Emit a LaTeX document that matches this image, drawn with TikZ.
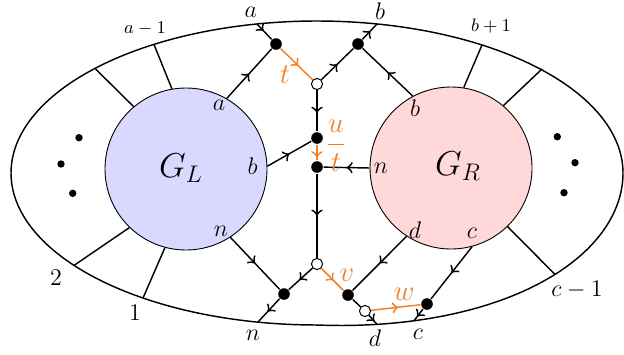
\documentclass[tikz,border=0pt]{standalone}
\usetikzlibrary{decorations.markings}
\definecolor{myorange}{RGB}{240,128,40}
\definecolor{lblue}{RGB}{217,217,255}
\definecolor{lred}{RGB}{255,217,217}
\begin{document}
\begin{tikzpicture}[x=0.5pt,y=-0.5pt,
  line width=0.72pt,
  bdot/.style={circle,fill=black,inner sep=0pt,minimum size=5.8pt},
  wdot/.style={circle,draw=black,fill=white,line width=0.5pt,inner sep=0pt,minimum size=5.6pt},
  blob/.style={circle,draw=black,line width=0.45pt,inner sep=0pt,minimum size=81pt},
  midarr/.style={postaction={decorate},decoration={markings,mark=at position #1 with {\arrow[scale=1.25]{>}}}},
  midarr/.default=0.5,
  oedge/.style={draw=myorange},
  lab/.style={font=\fontsize{13}{15}\selectfont,inner sep=0pt},
  slab/.style={font=\fontsize{9}{11}\selectfont,inner sep=0pt},
  olab/.style={font=\fontsize{15}{17}\selectfont,inner sep=0pt,text=myorange},
  glab/.style={font=\fontsize{17.5}{20}\selectfont,inner sep=0pt}
]
\useasboundingbox (0,0) rectangle (624,354);

% blobs
\node[blob,fill=lblue] (GL) at (186,169) {};
\node[blob,fill=lred] (GR) at (451,168) {};
\node[glab] (GLt) at (181,168.5) {$G_L$};
\node[glab] (GRt) at (458,166.5) {$G_R$};

% outer curve
\draw plot[domain=0:360,samples=200,smooth] ({317+306*cos(\x)},{173+152*sin(\x)+12*max(sin(\x),0)*max(cos(\x),0)}) -- cycle;

% boundary points
\coordinate (ba) at (257,24);
\coordinate (bb) at (377,24);
\coordinate (bn) at (258,322);
\coordinate (bd) at (377,324.3);
\coordinate (bc) at (414,320.6);
\coordinate (oam) at (154,44.4);
\coordinate (oL2) at (95,68.4);
\coordinate (otwo) at (74,265.4);
\coordinate (oone) at (143,298);
\coordinate (obp) at (482,45);
\coordinate (oR2) at (542,69);
\coordinate (ocm) at (555,274.4);

% plain lines between blobs and outer curve
\draw (GL.100) -- (oam);
\draw (GL.130) -- (oL2);
\draw (GL.226) -- (otwo);
\draw (GL.255) -- (oone);
\draw (GR.81) -- (obp);
\draw (GR.50) -- (oR2);
\draw (GR.-46) -- (ocm);

% vertices
\node[bdot] (A) at (276,44) {};
\node[bdot] (B) at (358,44) {};
\node[wdot] (T) at (317,84) {};
\node[bdot] (U1) at (317,138) {};
\node[bdot] (U2) at (317,167) {};
\node[wdot] (V) at (317,264) {};
\node[bdot] (N) at (284,294) {};
\node[bdot] (D) at (348,295) {};
\node[wdot] (W) at (365,311) {};
\node[bdot] (C) at (427,304) {};

% black edges
\draw[midarr] (GL.60) -- (A);
\draw[midarr=0.45] (ba) -- (A);
\draw[midarr] (T) -- (B);
\draw[midarr=0.55] (B) -- (bb);
\draw[midarr] (GR.118) -- (B);
\draw[midarr=0.55] (T) -- (U1);
\draw[midarr] (GL.2) -- (U1);
\draw[midarr] (GR.180) -- (U2);
\draw[midarr=0.5] (U2) -- (V);
\draw[midarr] (GL.-57) -- (N);
\draw[midarr=0.55] (V) -- (N);
\draw[midarr=0.55] (N) -- (bn);
\draw[midarr] (GR.-123.5) -- (D);
\draw (D) -- (W);
\draw[midarr=0.65] (W) -- (bd);
\draw[midarr] (GR.-75) -- (C);
\draw[midarr=0.65] (C) -- (bc);

% orange edges
\draw[oedge,midarr=0.55] (A) -- (T);
\draw[oedge,midarr=0.8] (U1) -- (U2);
\draw[oedge,midarr=0.55] (V) -- (D);
\draw[oedge,midarr=0.55] (W) -- (C);

% dots
\fill (79,137.7) circle[radius=1.85pt];
\fill (61,164) circle[radius=1.85pt];
\fill (72.7,193.3) circle[radius=1.85pt];
\fill (557.3,136.7) circle[radius=1.85pt];
\fill (575,162.7) circle[radius=1.85pt];
\fill (564,192.7) circle[radius=1.85pt];

% labels
\node[lab] (la) at (250.7,12) {$a$};
\node[lab] (lb) at (380,11.5) {$b$};
\node[lab] (lGLa) at (219,105) {$a$};
\node[lab] (lGRb) at (415,108) {$b$};
\node[lab] (lGLb) at (252.5,166) {$b$};
\node[lab] (lGRn) at (381,168) {$n$};
\node[lab] (lGLn) at (221,231) {$n$};
\node[lab] (lGRd) at (415,230) {$d$};
\node[lab] (lGRc) at (472,233) {$c$};
\node[lab] (ln) at (253,335) {$n$};
\node[lab] (ld) at (375,338) {$d$};
\node[lab] (lc) at (418,334) {$c$};
\node[slab] (lam) at (145,29) {$a-1$};
\node[slab] (lbp) at (491,26) {$b+1$};
\node[lab] (ltwo) at (56,278) {$2$};
\node[lab] (lone) at (135,313) {$1$};
\node[lab] (lcm) at (577,290) {$c-1$};
\node[olab] (lt) at (285,75) {$t$};
\node[olab,font=\fontsize{13.5}{15}\selectfont] (lut) at (336,146) {$\displaystyle\frac{u}{t}$};
\node[olab] (lv) at (347,275) {$v$};
\node[olab] (lw) at (404,294) {$w$};
\end{tikzpicture}
\end{document}
